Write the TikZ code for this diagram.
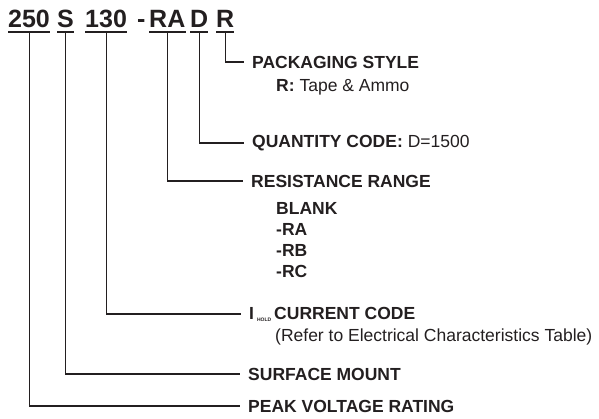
\documentclass[tikz,border=0pt]{standalone}
\usepackage{fontspec}
\setmainfont{Liberation Sans}
\usetikzlibrary{positioning}
\definecolor{ink}{HTML}{231F20}

\begin{document}
\begin{tikzpicture}[x=1pt, y=-1pt,
  every node/.style={font=\fontsize{17.5}{21}\selectfont, text=ink},
  pn/.style ={inner sep=0pt, anchor=base west,
              font=\fontsize{25}{30}\selectfont\bfseries},
  lbl/.style={anchor=west, inner xsep=8pt, inner ysep=0pt,
              font=\fontsize{17.5}{21}\selectfont\bfseries},
  sub/.style={anchor=west, inner sep=0pt, align=left},
  ld/.style ={draw=ink, line width=1.1pt},
  ul/.style ={draw=ink, line width=1.7pt}
]
\useasboundingbox (0,0) rectangle (599,418);

%% part number
\node[pn] (volt) at (8,27)   {250};
\node[pn] (smd)  at (57,27)  {S};
\node[pn] (cur)  at (85,27)  {130};
\node[pn] (dsh)  at (137,27) {-};
\node[pn] (rng)  at (149,27) {RA};
\node[pn] (qty)  at (190,27) {D};
\node[pn] (pkg)  at (216,27) {R};

\foreach \n in {volt,smd,cur,rng,qty,pkg}
  \draw[ul] ([yshift=-5pt]\n.base west) -- ([yshift=-5pt]\n.base east);

%% field labels
\node[lbl] (pkgl)  at (244,62)  {PACKAGING STYLE};
\node[sub] (pkgd)  at (276,87)  {\textbf{R:} Tape \& Ammo};
\node[lbl] (qtyl)  at (244,143) {QUANTITY CODE: \mdseries D=1500};
\node[lbl] (rngl)  at (243,181) {RESISTANCE RANGE};
\node[sub, anchor=north west, font=\fontsize{17.5}{21}\selectfont\bfseries]
      (rngd) at (276,202) {BLANK\\-RA\\-RB\\-RC};
\node[lbl] (curl)  at (241,314) {I\hspace{3pt}\raisebox{-2pt}{\fontsize{5}{5}\selectfont HOLD}\hspace{3pt}CURRENT CODE};
\node[sub] (curd)  at (275,337) {(Refer to Electrical Characteristics Table)};
\node[lbl] (smdl)  at (240,374) {SURFACE MOUNT};
\node[lbl] (voltl) at (240,406) {PEAK VOLTAGE RATING};

%% leaders
\foreach \a/\b in {pkg/pkgl,qty/qtyl,rng/rngl,cur/curl,smd/smdl,volt/voltl}
  \draw[ld] ([yshift=-5pt]\a.base) |- (\b.west);
\end{tikzpicture}
\end{document}
